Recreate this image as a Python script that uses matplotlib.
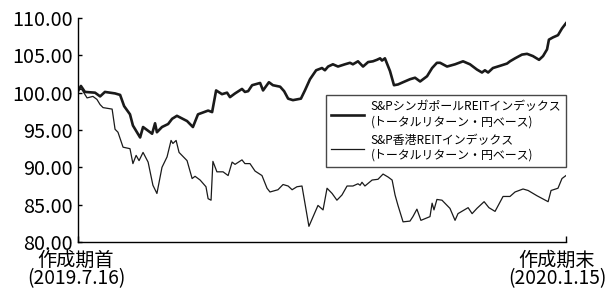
import matplotlib
matplotlib.use('Agg')
import matplotlib.pyplot as plt

plt.rcParams['font.family'] = ['Noto Sans CJK JP', 'DejaVu Sans']

# days since 2019.7.16
sg_days = [0, 1.1, 2.6, 6.4, 8.3, 10.1, 13.9, 15.8, 17.3, 19.5,
           20.6, 23.3, 24.4, 27.8, 28.9, 29.6, 31.5, 33.8, 35.3, 37.1,
           40.9, 43.1, 45.0, 48.8, 50.3, 51.8, 54.0, 55.9, 57.0, 58.9,
           61.5, 62.6, 63.8, 65.3, 68.3, 69.4, 71.6, 73.1, 75.8, 77.3,
           78.8, 80.6, 83.6, 85.1, 87.0, 89.3, 91.5, 92.6, 93.8, 95.6,
           97.5, 100.1, 102.0, 103.1, 105.0, 106.9, 108.8, 110.6, 112.1, 113.3,
           114.0, 115.1, 117.0, 118.5, 120.0, 121.9, 124.5, 126.4, 128.3, 130.9,
           132.8, 134.6, 135.8, 138.4, 141.4, 144.4, 147.0, 149.6, 151.5, 152.6,
           153.8, 155.6, 158.3, 160.9, 162.0, 163.9, 166.5, 168.4, 170.6, 172.9,
           174.4, 175.9, 176.6, 178.1, 180.0, 181.5, 183.0]
sg_vals = [100.2, 100.9, 100.1, 100.0, 99.5, 100.1, 99.9, 99.7, 98.2, 97.1,
           95.6, 94.0, 95.4, 94.5, 95.9, 94.7, 95.4, 95.8, 96.5, 96.9,
           96.2, 95.4, 97.1, 97.6, 97.4, 100.3, 99.8, 100.0, 99.4, 99.9,
           100.5, 100.1, 100.2, 101.0, 101.3, 100.3, 101.4, 101.0, 100.8, 100.2,
           99.2, 99.0, 99.2, 100.3, 101.8, 103.0, 103.3, 103.0, 103.5, 103.8,
           103.5, 103.8, 104.0, 103.8, 104.2, 103.5, 104.1, 104.2, 104.4, 104.6,
           104.3, 104.6, 102.9, 101.0, 101.1, 101.4, 101.8, 102.0, 101.5, 102.2,
           103.3, 104.0, 104.0, 103.5, 103.8, 104.2, 103.8, 103.1, 102.7, 103.0,
           102.7, 103.3, 103.6, 103.9, 104.2, 104.6, 105.1, 105.2, 104.9, 104.4,
           104.9, 105.8, 107.1, 107.4, 107.7, 108.6, 109.3]

hk_days = [0, 1.5, 3.4, 5.6, 7.1, 8.3, 9.4, 12.8, 13.9, 15.0,
           16.9, 19.5, 20.6, 21.8, 22.9, 24.4, 26.3, 28.1, 29.6, 31.5,
           33.4, 34.9, 35.6, 36.8, 37.9, 40.9, 42.8, 43.9, 45.8, 48.0,
           48.8, 49.9, 50.6, 52.1, 54.4, 56.3, 57.8, 58.9, 61.5, 62.6,
           64.5, 66.4, 69.0, 70.9, 72.0, 75.0, 76.9, 78.8, 80.3, 82.1,
           84.0, 86.6, 90.0, 91.9, 93.4, 95.3, 97.1, 99.0, 100.9, 103.1,
           105.0, 105.8, 106.5, 107.6, 110.3, 112.5, 114.4, 116.3, 117.8, 118.9,
           120.0, 121.9, 124.5, 125.6, 127.1, 128.6, 132.0, 132.8, 133.5, 134.6,
           136.5, 139.5, 141.4, 142.5, 146.3, 147.8, 149.6, 152.3, 154.1, 156.4,
           159.4, 162.0, 163.9, 166.9, 168.8, 172.1, 176.3, 177.4, 180.0, 181.5,
           183.0]
hk_vals = [100.5, 100.4, 99.3, 99.5, 99.1, 98.4, 98.0, 97.8, 95.1, 94.7,
           92.7, 92.5, 90.5, 91.6, 90.9, 92.0, 90.7, 87.6, 86.5, 90.0,
           91.4, 93.6, 93.2, 93.6, 92.0, 90.9, 88.5, 88.8, 88.3, 87.4,
           85.8, 85.6, 90.8, 89.4, 89.4, 88.9, 90.7, 90.4, 91.0, 90.5,
           90.5, 89.5, 88.9, 87.2, 86.7, 87.0, 87.7, 87.5, 87.0, 87.4,
           87.5, 82.1, 84.9, 84.3, 87.2, 86.5, 85.6, 86.3, 87.5, 87.5,
           87.8, 87.6, 88.0, 87.5, 88.3, 88.4, 89.1, 88.7, 88.3, 86.3,
           84.9, 82.7, 82.8, 83.4, 84.4, 82.9, 83.4, 85.2, 84.3, 85.7,
           85.6, 84.5, 82.9, 83.8, 84.6, 83.8, 84.5, 85.4, 84.6, 84.1,
           86.1, 86.1, 86.7, 87.1, 86.9, 86.2, 85.4, 86.9, 87.2, 88.5,
           88.9]

sg_label = 'S&PシンガポールREITインデックス\n(トータルリターン・円ベース)'
hk_label = 'S&P香港REITインデックス\n(トータルリターン・円ベース)'
x_ticks = [0, 183]
x_labels = ['作成期首\n(2019.7.16)', '作成期末\n(2020.1.15)']
y_ticks = [80, 85, 90, 95, 100, 105, 110]

fig = plt.figure(figsize=(6.16, 2.89), dpi=100)
ax = fig.add_axes([0.1266, 0.1626, 0.7922, 0.7751])

ax.plot(sg_days, sg_vals, color='#1a1a1a', lw=1.9, label=sg_label)
ax.plot(hk_days, hk_vals, color='#1a1a1a', lw=0.9, label=hk_label)

ax.set_xlim(0, 183)
ax.set_ylim(80, 110)
ax.set_yticks(y_ticks)
ax.set_yticklabels(['%.2f' % v for v in y_ticks])
ax.set_xticks(x_ticks)
ax.set_xticklabels(['', ''])

ax.spines['top'].set_visible(False)
ax.spines['right'].set_visible(False)
ax.spines['left'].set_linewidth(1.0)
ax.spines['bottom'].set_linewidth(1.0)
ax.tick_params(axis='y', direction='in', length=3, width=1, labelsize=14.3, pad=4)
ax.tick_params(axis='x', direction='in', length=4, width=1)

# start / end labels under the axis, end one pulled left to stay inside
shifts = [-2, -9]
for xv, lab, dx in zip(x_ticks, x_labels, shifts):
    ax.annotate(lab, xy=(xv, 0), xycoords=('data', 'axes fraction'),
                xytext=(dx, -42), textcoords='offset pixels',
                ha='center', va='baseline', fontsize=13.8, linespacing=0.8)

leg = ax.legend(loc='upper right', bbox_to_anchor=(1.0, 0.655), fontsize=8.6,
                frameon=True, fancybox=False, edgecolor='#1a1a1a',
                handlelength=2.8, handletextpad=0.55, labelspacing=0.5,
                borderpad=0.4, borderaxespad=0)
leg.get_frame().set_linewidth(1.0)
for t in leg.get_texts():
    t.set_linespacing(1.2)

fig.savefig('out.png', dpi=100)
